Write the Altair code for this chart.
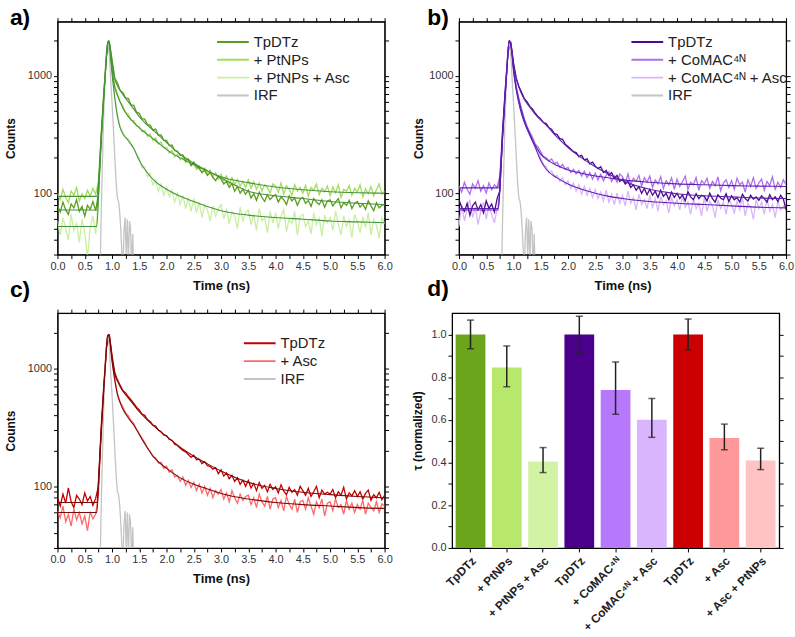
import json
import altair as alt
import pandas as pd

FONT = "Liberation Sans"
STEP = 0.05  # sampling step of the recorded decay traces (ns)

# ---------------- tick values ----------------
X_TICKS = [0.0, 0.25, 0.5, 0.75, 1.0, 1.25, 1.5, 1.75, 2.0, 2.25, 2.5, 2.75, 3.0,
           3.25, 3.5, 3.75, 4.0, 4.25, 4.5, 4.75, 5.0, 5.25, 5.5, 5.75, 6.0]
Y_TICKS = [30, 40, 50, 60, 70, 80, 90, 100, 200, 300, 400, 500, 600, 700, 800, 900, 1000, 2000]
Y_MAJOR = [100, 1000]
D_TICKS = [0.0, 0.1, 0.2, 0.3, 0.4, 0.5, 0.6, 0.7, 0.8, 0.9, 1.0]

# ---------------- panel a (green) ----------------
A_NAMES = ["TpDTz", "+ PtNPs", "+ PtNPs + Asc", "IRF"]
A_COLORS = ["#5b9c1c", "#a3dc5c", "#c9efa0", "#c4c4c4"]
A_FIT_COLOR = "#45933a"

A_TPDTZ = [
    78, 69, 84, 72, 66, 81, 75, 88, 70, 77,
    64, 79, 73, 85, 71, 98, 300, 720, 1500, 1950,
    1380, 960, 870, 750, 720, 650, 640, 565, 560, 490,
    480, 432, 428, 384, 380, 345, 352, 312, 314, 282,
    282, 255, 258, 230, 228, 210, 212, 190, 196, 172,
    184, 168, 162, 150, 157, 142, 150, 136, 128, 140,
    132, 120, 126, 112, 121, 104, 114, 100, 108, 98,
    106, 91, 99, 87, 102, 92, 85, 97, 88, 94,
    97, 84, 93, 88, 80, 95, 86, 91, 79, 89,
    92, 82, 87, 77, 90, 84, 80, 88, 76, 86,
    88, 78, 84, 90, 75, 83, 79, 87, 74, 82,
    85, 76, 81, 73, 86, 78, 71, 83, 75, 79,
    80]
A_PTNPS = [
    100, 88, 108, 92, 83, 104, 96, 112, 86, 99,
    90, 106, 94, 110, 98, 125, 320, 740, 1550, 1900,
    1200, 830, 700, 600, 555, 490, 470, 420, 415, 375,
    370, 335, 342, 305, 318, 282, 296, 262, 272, 245,
    246, 220, 232, 205, 214, 192, 204, 182, 190, 172,
    178, 160, 170, 150, 164, 146, 158, 138, 150, 132,
    145, 128, 140, 120, 136, 118, 131, 115, 126, 112,
    130, 110, 125, 108, 122, 104, 118, 112, 100, 120,
    115, 102, 122, 98, 116, 108, 96, 118, 104, 112,
    100, 117, 94, 112, 106, 120, 97, 110, 103, 115,
    95, 113, 101, 118, 92, 108, 104, 116, 96, 110,
    102, 118, 93, 109, 99, 114, 95, 107, 120, 98,
    104]
A_ASC = [
    58, 44, 62, 50, 40, 66, 48, 55, 38, 60,
    46, 28, 52, 64, 45, 90, 280, 690, 1450, 1850,
    1100, 680, 470, 370, 330, 300, 290, 262, 240, 215,
    200, 165, 168, 138, 148, 118, 130, 104, 120, 96,
    112, 94, 106, 84, 100, 80, 96, 74, 92, 70,
    90, 68, 84, 62, 80, 72, 58, 78, 64, 74,
    80, 60, 74, 55, 70, 64, 50, 76, 58, 68,
    72, 54, 66, 48, 74, 58, 62, 46, 70, 56,
    68, 50, 64, 72, 47, 60, 55, 70, 44, 63,
    66, 52, 58, 45, 68, 54, 61, 43, 65, 56,
    62, 48, 70, 55, 44, 64, 52, 59, 42, 66,
    57, 46, 63, 51, 68, 44, 60, 53, 41, 62,
    55]

# ---------------- panel b (purple) ----------------
B_NAMES = ["TpDTz", "+ CoMAC⁴ᴺ", "+ CoMAC⁴ᴺ + Asc", "IRF"]
B_COLORS = ["#4b0a8f", "#b06ef0", "#d9b6fb", "#c4c4c4"]
B_FIT_COLOR = "#5e1fae"

B_TPDTZ = [
    88, 76, 70, 82, 65, 78, 84, 72, 80, 68,
    86, 74, 81, 69, 90, 105, 330, 760, 1650, 1950,
    1300, 960, 810, 720, 640, 600, 550, 520, 480, 450,
    430, 400, 392, 362, 350, 322, 316, 292, 288, 262,
    250, 238, 226, 222, 205, 210, 192, 196, 178, 184,
    170, 162, 168, 150, 156, 142, 150, 134, 142, 126,
    132, 120, 126, 112, 118, 106, 114, 100, 110, 97,
    108, 96, 104, 92, 106, 94, 100, 88, 102, 92,
    100, 90, 97, 86, 103, 93, 88, 99, 90, 96,
    94, 86, 100, 90, 84, 97, 91, 88, 99, 85,
    95, 88, 92, 84, 98, 90, 86, 96, 89, 93,
    87, 95, 90, 84, 97, 88, 93, 85, 96, 89,
    72]
B_COMAC = [
    115, 102, 124, 108, 98, 120, 110, 128, 104, 116,
    100, 122, 107, 118, 112, 140, 350, 780, 1600, 1900,
    1200, 820, 640, 520, 430, 370, 330, 300, 262, 248,
    225, 205, 200, 188, 196, 178, 184, 166, 176, 160,
    166, 150, 160, 146, 156, 140, 154, 136, 150, 132,
    148, 130, 145, 128, 142, 152, 126, 140, 124, 146,
    138, 122, 146, 118, 134, 126, 142, 115, 136, 124,
    140, 112, 130, 120, 138, 110, 128, 118, 135, 108,
    132, 114, 126, 140, 108, 124, 118, 136, 106, 128,
    120, 134, 110, 126, 116, 138, 105, 122, 130, 112,
    128, 108, 134, 118, 124, 102, 130, 114, 136, 110,
    122, 132, 106, 126, 116, 138, 108, 124, 112, 130,
    118]
B_ASC = [
    52, 80, 58, 74, 88, 62, 76, 54, 70, 84,
    60, 78, 66, 56, 74, 100, 320, 750, 1580, 1880,
    1150, 780, 600, 480, 410, 360, 320, 290, 255, 240,
    200, 176, 168, 150, 155, 138, 142, 126, 136, 118,
    128, 110, 122, 104, 118, 98, 114, 96, 110, 92,
    108, 90, 102, 86, 106, 84, 98, 80, 100, 82,
    96, 78, 104, 82, 92, 72, 98, 80, 88, 74,
    96, 76, 90, 70, 94, 80, 86, 68, 92, 78,
    88, 72, 95, 76, 84, 66, 90, 74, 82, 64,
    92, 70, 86, 78, 62, 88, 74, 84, 66, 90,
    80, 68, 86, 72, 92, 64, 82, 76, 60, 88,
    74, 84, 66, 90, 70, 80, 62, 86, 72, 78,
    76]

# ---------------- panel c (red) ----------------
C_NAMES = ["TpDTz", "+ Asc", "IRF"]
C_COLORS = ["#c20000", "#ff6868", "#c4c4c4"]
C_FIT_COLOR = "#7b0a0a"

C_TPDTZ = [
    80, 68, 86, 72, 97, 74, 66, 84, 78, 70,
    88, 75, 82, 69, 79, 100, 310, 730, 1550, 1950,
    1300, 930, 800, 720, 650, 620, 575, 540, 505, 470,
    445, 410, 400, 368, 355, 330, 325, 300, 290, 272,
    270, 250, 246, 228, 222, 210, 202, 196, 186, 176,
    184, 168, 170, 156, 162, 150, 148, 140, 144, 128,
    138, 122, 130, 116, 124, 110, 118, 104, 113, 100,
    112, 97, 106, 92, 108, 96, 102, 90, 104, 94,
    99, 88, 103, 91, 85, 98, 89, 94, 84, 100,
    92, 84, 96, 82, 90, 100, 80, 93, 86, 89,
    86, 94, 80, 90, 84, 98, 78, 88, 83, 92,
    82, 90, 78, 87, 93, 76, 85, 80, 89, 77,
    84]
C_ASC = [
    62, 54, 68, 50, 58, 46, 64, 52, 60, 48,
    56, 42, 61, 53, 58, 85, 280, 700, 1480, 1880,
    1200, 820, 610, 520, 470, 420, 395, 360, 340, 305,
    280, 255, 236, 212, 196, 178, 175, 158, 160, 142,
    148, 132, 138, 120, 124, 110, 120, 102, 112, 98,
    108, 92, 104, 88, 100, 84, 96, 80, 92, 86,
    94, 78, 88, 74, 92, 80, 72, 86, 76, 82,
    84, 70, 80, 66, 86, 74, 68, 82, 64, 78,
    80, 66, 76, 62, 82, 70, 64, 78, 60, 74,
    76, 64, 80, 68, 58, 74, 66, 78, 56, 72,
    74, 62, 78, 66, 70, 58, 76, 64, 72, 60,
    70, 64, 76, 58, 72, 66, 62, 74, 60, 71,
    68]

# ---------------- fitted curves ----------------
FIT_T = [0.0, 0.72, 0.76, 0.80, 0.84, 0.88, 0.92, 0.94, 0.97, 1.0, 1.05, 1.1, 1.15, 1.2,
         1.3, 1.4, 1.5, 1.6, 1.8, 2.0, 2.25, 2.5, 2.75, 3.0, 3.5, 4.0, 4.5, 5.0, 5.5, 6.0]
A_FIT_TPDTZ = [72, 72, 130, 280, 560, 1100, 1900, 2000, 1700, 1300, 950, 820, 750, 690, 600,
               520, 450, 400, 330, 270, 215, 180, 155, 135, 104, 95, 90, 85, 82, 80]
A_FIT_PTNPS = [94, 94, 140, 290, 570, 1100, 1900, 2000, 1600, 1150, 800, 680, 600, 530, 450,
               400, 360, 330, 280, 235, 200, 175, 155, 138, 123, 113, 107, 103, 101, 100]
A_FIT_ASC = [52, 52, 110, 260, 540, 1080, 1880, 1950, 1500, 1050, 650, 450, 360, 320, 280,
             240, 190, 160, 125, 108, 94, 85, 77, 71, 65, 62, 60, 58, 57, 56]
B_FIT_TPDTZ = [74, 74, 140, 300, 600, 1150, 2000, 1950, 1650, 1250, 950, 800, 700, 630, 540,
               470, 420, 380, 300, 245, 200, 168, 145, 128, 108, 99, 95, 93, 91, 90]
B_FIT_COMAC = [111, 111, 160, 320, 620, 1150, 2000, 1950, 1600, 1150, 800, 620, 500, 420, 320,
               255, 215, 195, 172, 158, 148, 140, 135, 130, 124, 120, 118, 116, 115, 114]
B_FIT_ASC = [72, 72, 130, 290, 590, 1120, 1980, 1900, 1550, 1100, 760, 580, 470, 400, 310,
             245, 190, 160, 135, 120, 108, 100, 94, 90, 85, 82, 80, 78, 76, 75]
C_FIT_TPDTZ = [73, 73, 135, 290, 580, 1120, 1900, 1950, 1650, 1250, 900, 780, 700, 640, 560,
               490, 430, 385, 315, 265, 215, 180, 155, 135, 108, 96, 89, 85, 82, 80]
C_FIT_ASC = [60, 60, 120, 270, 560, 1100, 1900, 1900, 1550, 1150, 800, 600, 510, 450, 380,
             330, 275, 230, 170, 142, 118, 104, 95, 87, 78, 73, 70, 68, 66, 65]

# ---------------- instrument response ----------------
IRF_T = [0.78, 0.80, 0.82, 0.84, 0.86, 0.88, 0.90, 0.92, 0.94, 0.96, 0.98, 1.00, 1.02, 1.04,
         1.06, 1.08, 1.10, 1.12, 1.14, 1.16, 1.18, 1.20, 1.22, 1.24, 1.26, 1.28, 1.30, 1.32,
         1.34, 1.36, 1.38, 1.40, 1.42]
IRF_V = [20, 60, 150, 350, 700, 1200, 1700, 1900, 1750, 1300, 850, 600, 400, 260, 170, 115,
         90, 85, 70, 50, 32, 22, 48, 62, 30, 60, 25, 58, 50, 22, 45, 20, 15]

# ---------------- panel d (bars) ----------------
BAR_LABELS = ["TpDTz", "+ PtNPs", "+ PtNPs + Asc", "TpDTz", "+ CoMAC⁴ᴺ", "+ CoMAC⁴ᴺ + Asc",
              "TpDTz", "+ Asc", "+ Asc + PtNPs"]
BAR_VALUES = [1.0, 0.845, 0.405, 1.0, 0.74, 0.60, 1.0, 0.515, 0.41]
BAR_LO = [0.933, 0.755, 0.353, 0.915, 0.626, 0.518, 0.927, 0.46, 0.367]
BAR_HI = [1.067, 0.946, 0.47, 1.085, 0.871, 0.70, 1.072, 0.58, 0.467]
BAR_COLORS = ["#6aa51c", "#b7e86c", "#d3f3a4", "#4b008c", "#b679fb", "#d8b5fd",
              "#cc0000", "#ff9999", "#ffc3c3"]

PANEL_LABELS = ["a)", "b)", "c)", "d)"]

X_LABEL_EXPR = "round(datum.value * 4) % 2 == 0 ? format(datum.value, '.1f') : ''"
Y_LABEL_EXPR = "indexof(%s, datum.value) >= 0 ? datum.label : ''" % json.dumps(Y_MAJOR)


def trace_df(vals, name):
    return pd.DataFrame({"t": [round(i * STEP, 2) for i in range(len(vals))],
                         "v": vals, "series": name})


def panel_label(text, dx, dy):
    return alt.Chart(pd.DataFrame({"lab": [text]})).mark_text(
        font=FONT, fontSize=23, fontWeight="bold", align="left", baseline="top", color="black"
    ).encode(text="lab:N", x=alt.value(dx), y=alt.value(dy))


def decay_panel(labels, names, colors, traces, fits, fit_color,
                ymax, h, leg_x, leg_y, title_pad):
    xs = alt.Scale(domain=[0, 6], nice=False, zero=False)
    ys = alt.Scale(type="log", domain=[30, ymax], nice=False)
    cs = alt.Scale(domain=names, range=colors)
    leg = alt.Legend(orient="none", legendX=leg_x, legendY=leg_y, title=None,
                     symbolType="stroke", symbolSize=1024, symbolStrokeWidth=2,
                     clipHeight=15, rowPadding=2, labelFont=FONT, labelFontSize=15,
                     labelColor="#222", labelOffset=4, labelLimit=0)
    x_axis = alt.Axis(orient="bottom", values=X_TICKS, labelExpr=X_LABEL_EXPR, title="Time (ns)",
                      titlePadding=8, titleFontSize=13, labelFlush=False, labelOverlap=False)
    y_axis = alt.Axis(orient="left", values=Y_TICKS, labelExpr=Y_LABEL_EXPR, format="d",
                      title="Counts", titlePadding=title_pad, labelOverlap=False)
    x_top = alt.Axis(orient="top", values=X_TICKS, labels=False, title=None)
    y_right = alt.Axis(orient="right", values=Y_TICKS, labels=False, title=None)

    layers = []
    for i, (name, vals) in enumerate(traces):
        layers.append(alt.Chart(trace_df(vals, name)).mark_line(strokeWidth=1.3, clip=True).encode(
            x=alt.X("t:Q", scale=xs, axis=x_axis if i == 0 else None),
            y=alt.Y("v:Q", scale=ys, axis=y_axis if i == 0 else None),
            color=alt.Color("series:N", scale=cs, legend=leg)))
    irf = pd.DataFrame({"t": IRF_T, "v": IRF_V, "series": "IRF"})
    layers.append(alt.Chart(irf).mark_line(strokeWidth=1.3, clip=True).encode(
        x=alt.X("t:Q", scale=xs, axis=None),
        y=alt.Y("v:Q", scale=ys, axis=None),
        color=alt.Color("series:N", scale=cs, legend=leg)))
    for j, vals in enumerate(fits):
        df = pd.DataFrame({"t": FIT_T, "v": vals})
        layers.append(alt.Chart(df).mark_line(color=fit_color, strokeWidth=1.1, clip=True,
                                              interpolate="monotone").encode(
            x=alt.X("t:Q", scale=xs, axis=x_top if j == 0 else None),
            y=alt.Y("v:Q", scale=ys, axis=y_right if j == 0 else None)))
    for text, dx, dy in labels:
        layers.append(panel_label(text, dx, dy))
    return alt.layer(*layers).resolve_axis(x="independent", y="independent").properties(
        width=330, height=h)


# labels of the lower panels are placed in the upper panels' space (they sit beside "Time (ns)")
pa = decay_panel([(PANEL_LABELS[0], -48, -15), (PANEL_LABELS[2], -48, 260)],
                 A_NAMES, A_COLORS,
                 [(A_NAMES[2], A_ASC), (A_NAMES[1], A_PTNPS), (A_NAMES[0], A_TPDTZ)],
                 [A_FIT_TPDTZ, A_FIT_PTNPS, A_FIT_ASC], A_FIT_COLOR,
                 2900, 235, 160, 13, 10)
pb = decay_panel([(PANEL_LABELS[1], -32, -15), (PANEL_LABELS[3], -32, 259)],
                 B_NAMES, B_COLORS,
                 [(B_NAMES[2], B_ASC), (B_NAMES[1], B_COMAC), (B_NAMES[0], B_TPDTZ)],
                 [B_FIT_TPDTZ, B_FIT_COMAC, B_FIT_ASC], B_FIT_COLOR,
                 2900, 235, 173, 13, 3)
pc = decay_panel([],
                 C_NAMES, C_COLORS,
                 [(C_NAMES[1], C_ASC), (C_NAMES[0], C_TPDTZ)],
                 [C_FIT_TPDTZ, C_FIT_ASC], C_FIT_COLOR,
                 2950, 237, 187, 23, 10)

# ---- bar panel ----
bars = pd.DataFrame({"key": [str(i) for i in range(len(BAR_VALUES))], "val": BAR_VALUES,
                     "lo": BAR_LO, "hi": BAR_HI})
keys = list(bars["key"])
bx = alt.Scale(domain=keys, paddingInner=0.18, paddingOuter=0.1)
by = alt.Scale(domain=[0, 1.10], nice=False, zero=True)
bar_label_expr = "%s[toNumber(datum.value)]" % json.dumps(BAR_LABELS, ensure_ascii=False)
bar_layer = alt.Chart(bars).mark_bar().encode(
    x=alt.X("key:N", sort=keys, scale=bx,
            axis=alt.Axis(labelExpr=bar_label_expr, labelAngle=-45, labelFontWeight="bold",
                          labelFontSize=12, labelColor="#222", title=None, labelOverlap=False,
                          labelPadding=3)),
    y=alt.Y("val:Q", scale=by,
            axis=alt.Axis(orient="left", values=D_TICKS,
                          labelExpr="round(datum.value * 10) % 2 == 0 ? format(datum.value, '.1f') : ''",
                          title="τ (normalized)", titlePadding=6, labelOverlap=False)),
    color=alt.Color("key:N", scale=alt.Scale(domain=keys, range=BAR_COLORS), legend=None))
err_rule = alt.Chart(bars).mark_rule(color="#222", strokeWidth=1.5).encode(
    x=alt.X("key:N", sort=keys, scale=bx, axis=None),
    y=alt.Y("lo:Q", scale=by, axis=alt.Axis(orient="right", values=D_TICKS, labels=False, title=None)),
    y2="hi:Q")
cap_lo = alt.Chart(bars).mark_tick(color="#222", thickness=1.5, size=7).encode(
    x=alt.X("key:N", sort=keys, scale=bx, axis=None),
    y=alt.Y("lo:Q", scale=by, axis=None))
cap_hi = alt.Chart(bars).mark_tick(color="#222", thickness=1.5, size=7).encode(
    x=alt.X("key:N", sort=keys, scale=bx, axis=None),
    y=alt.Y("hi:Q", scale=by, axis=None))
pd_ = alt.layer(bar_layer, err_rule, cap_lo, cap_hi).resolve_axis(
    x="independent", y="independent").properties(width=330, height=237)

top = alt.hconcat(pa, pb, spacing=18).resolve_scale(color="independent")
bottom = alt.hconcat(pc, pd_, spacing=18).resolve_scale(color="independent")
chart = alt.vconcat(top, bottom, spacing=4).resolve_scale(color="independent").configure(
    padding={"left": 3, "top": 3, "right": 0, "bottom": 0}, font=FONT
).configure_view(stroke="black", strokeWidth=1.2).configure_axis(
    grid=False, domainColor="black", tickColor="black", tickSize=4, labelFont=FONT,
    labelFontSize=11, labelColor="#333", titleFont=FONT, titleFontSize=12,
    titleFontWeight="bold", titleColor="#111", labelPadding=2)

chart.save("out.html", embed_options={"renderer": "svg", "actions": False})
